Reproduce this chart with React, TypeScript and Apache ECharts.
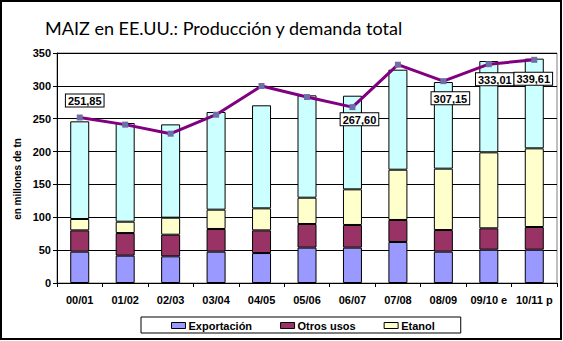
import React, { useEffect, useRef } from "react";
import * as echarts from "echarts";

const categories = ["00/01", "01/02", "02/03", "03/04", "04/05", "05/06", "06/07", "07/08", "08/09", "09/10 e", "10/11 p"];
const exportacion = [47.7, 41.6, 40.6, 47.7, 45.6, 53.8, 53.8, 62.4, 47.7, 50.7, 50.7];
const otrosUsos = [32.4, 34.4, 32.9, 34.5, 34.5, 36.0, 34.5, 33.5, 32.9, 32.5, 34.5];
const etanol = [17.3, 17.3, 25.9, 29.4, 33.5, 40.0, 54.2, 76.5, 93.4, 115.6, 119.7];
const forraje = [148.6, 150.2, 142.0, 148.6, 156.8, 155.8, 142.5, 152.2, 131.8, 139.0, 136.5];
const produccion = [251.85, 241.0, 227.2, 256.1, 299.8, 283.0, 267.6, 332.2, 307.15, 333.01, 339.61];
const labeledIndex = [0, 6, 8, 9, 10];
const yTicks = [0, 50, 100, 150, 200, 250, 300, 350];

const FONT = "'Liberation Sans', Arial, sans-serif";

export default function App() {
  const ref = useRef<HTMLDivElement>(null);
  useEffect(() => {
    if (!ref.current) return;
    const chart = echarts.init(ref.current, undefined, { renderer: "svg" });
    const labelOffsets: Record<number, { pos: string; offset: number[] }> = {
      0: { pos: "top", offset: [5, -3] },
      6: { pos: "bottom", offset: [7, -2] },
      8: { pos: "bottom", offset: [7, 3] },
      9: { pos: "bottom", offset: [6, 1] },
      10: { pos: "bottom", offset: [-1, 5] },
    };
    const lineData = produccion.map((v, i) => {
      if (labeledIndex.indexOf(i) < 0) return v;
      const o = labelOffsets[i];
      return {
        value: v,
        label: {
          show: true,
          position: o.pos,
          offset: o.offset,
          formatter: () => v.toFixed(2).replace(".", ","),
          backgroundColor: "#fff",
          borderColor: "#000",
          borderWidth: 1,
          padding: [1, 2, 0, 2],
          color: "#000",
          fontSize: 11,
          fontWeight: "bold",
          fontFamily: FONT,
        },
      };
    });
    const barCommon = {
      type: "bar",
      stack: "total",
      barWidth: 19,
      itemStyle: { borderColor: "#000", borderWidth: 1 },
    };
    chart.setOption({
      animation: false,
      backgroundColor: "#fff",
      title: {
        text: "MAIZ en EE.UU.: Producción y demanda total",
        left: 40,
        top: 14,
        textStyle: { fontSize: 18, fontWeight: "normal", fontFamily: "Lato, 'Open Sans', sans-serif", color: "#000" },
      },
      graphic: [
        {
          type: "rect",
          shape: { x: 1, y: 1, width: 560, height: 338 },
          style: { fill: "none", stroke: "#000", lineWidth: 2 },
          silent: true,
        },
        {
          type: "text",
          x: 17,
          y: 179,
          rotation: Math.PI / 2,
          style: {
            text: "en millones de tn",
            align: "center",
            verticalAlign: "middle",
            font: "bold 10px " + FONT,
            fill: "#000",
          },
        },
      ],
      legend: {
        data: ["Exportación", "Otros usos", "Etanol"],
        left: 141,
        top: 317,
        itemWidth: 14,
        itemHeight: 6,
        itemGap: 28,
        padding: [3, 26, 2, 30],
        borderColor: "#000",
        borderWidth: 1,
        icon: "rect",
        textStyle: { fontSize: 11, fontWeight: "bold", fontFamily: FONT, color: "#000", padding: [0, 0, 0, -2] },
        itemStyle: { borderColor: "#000", borderWidth: 1 },
      },
      grid: {
        left: 57,
        right: 6,
        top: 53,
        bottom: 58,
        show: true,
        borderColor: "#808080",
        borderWidth: 1,
      },
      xAxis: {
        type: "category",
        data: categories,
        axisLine: { lineStyle: { color: "#000", width: 1 } },
        axisTick: { show: true, alignWithLabel: false, length: 4, lineStyle: { color: "#000" } },
        axisLabel: { interval: 0, margin: 11, fontSize: 11, fontWeight: "bold", fontFamily: FONT, color: "#000" },
      },
      yAxis: {
        type: "value",
        min: yTicks[0],
        max: yTicks[yTicks.length - 1],
        interval: 50,
        axisLine: { show: true, lineStyle: { color: "#000", width: 1 } },
        axisTick: { show: true, length: 4, lineStyle: { color: "#000" } },
        axisLabel: { margin: 6, fontSize: 11, fontWeight: "bold", fontFamily: FONT, color: "#000" },
        splitLine: { show: true, lineStyle: { color: "#000", width: 1 } },
      },
      series: [
        { ...barCommon, name: "Exportación", data: exportacion, itemStyle: { ...barCommon.itemStyle, color: "#9999FF" } },
        { ...barCommon, name: "Otros usos", data: otrosUsos, itemStyle: { ...barCommon.itemStyle, color: "#993366" } },
        { ...barCommon, name: "Etanol", data: etanol, itemStyle: { ...barCommon.itemStyle, color: "#FFFFCC" } },
        { ...barCommon, name: "Forraje", data: forraje, itemStyle: { ...barCommon.itemStyle, color: "#CCFFFF" } },
        {
          type: "line",
          name: "Producción",
          data: lineData,
          z: 5,
          symbol: "rect",
          symbolSize: 6,
          lineStyle: { color: "#800080", width: 3 },
          itemStyle: { color: "#6F6FA8" },
        },
      ],
    });
    return () => chart.dispose();
  }, []);
  return (
    <div
      ref={ref}
      style={{ position: "fixed", left: 0, top: 0, width: 563, height: 341, background: "#fff" }}
    />
  );
}
